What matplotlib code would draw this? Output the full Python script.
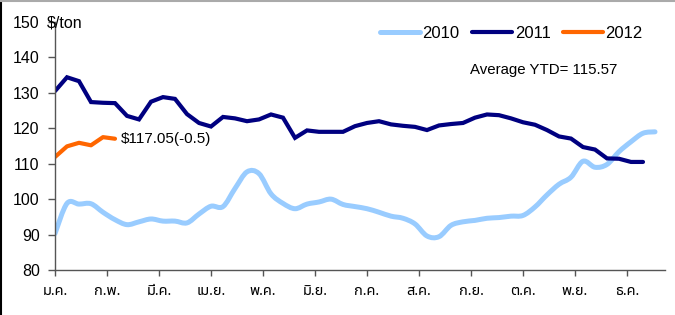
import matplotlib
matplotlib.use("Agg")
import numpy as np
import matplotlib.pyplot as plt
from matplotlib.lines import Line2D
from matplotlib.path import Path
from matplotlib.patches import PathPatch

plt.rcParams['font.family'] = ['Liberation Sans', 'DejaVu Sans']

# Weekly prices ($/ton)
price_2010 = [90.3, 98.8, 98.6, 98.7, 96.3, 94.2, 92.8, 93.6, 94.4, 93.8,
              93.8, 93.3, 95.8, 98.0, 97.9, 103.0, 107.7, 107.2, 101.5, 98.8,
              97.3, 98.6, 99.2, 100.0, 98.5, 97.9, 97.3, 96.3, 95.2, 94.6,
              93.0, 89.6, 89.4, 92.6, 93.6, 94.0, 94.6, 94.8, 95.2, 95.4,
              97.8, 101.2, 104.2, 106.2, 110.7, 109.0, 109.8, 113.4, 116.2, 118.6,
              119.0]
price_2011 = [130.5, 134.4, 133.3, 127.4, 127.2, 127.1, 123.5, 122.5, 127.5, 128.8,
              128.3, 124.0, 121.5, 120.5, 123.2, 122.8, 122.0, 122.5, 123.9, 123.0,
              117.3, 119.4, 119.0, 119.0, 119.0, 120.6, 121.5, 122.0, 121.1, 120.7,
              120.4, 119.5, 120.8, 121.2, 121.5, 123.0, 123.9, 123.7, 122.8, 121.7,
              121.0, 119.5, 117.7, 117.1, 114.7, 114.0, 111.5, 111.4, 110.5, 110.5]
price_2012 = [111.9, 114.9, 115.9, 115.2, 117.5, 117.05]

months = ['ม.ค.', 'ก.พ.', 'มี.ค.', 'เม.ย.', 'พ.ค.', 'มิ.ย.',
          'ก.ค.', 'ส.ค.', 'ก.ย.', 'ต.ค.', 'พ.ย.', 'ธ.ค.']
series_names = ['2010', '2011', '2012']
colors = ['#99CCFF', '#000080', '#FF6600']
last_label = '$117.05(-0.5)'
avg_label = 'Average YTD= 115.57'

thai_fonts = ['Noto Sans Thai', 'Kanit', 'Prompt', 'Sarabun', 'DejaVu Sans']


def smooth_path(y):
    # Excel-like smoothed line: Catmull-Rom segments as cubic Beziers
    x = np.arange(len(y), dtype=float)
    y = np.asarray(y, dtype=float)
    pts = np.column_stack([x, y])
    verts = [pts[0]]
    codes = [Path.MOVETO]
    n = len(pts)
    for i in range(n - 1):
        p0 = pts[max(i - 1, 0)]
        p1 = pts[i]
        p2 = pts[i + 1]
        p3 = pts[min(i + 2, n - 1)]
        c1 = p1 + (p2 - p0) / 6
        c2 = p2 - (p3 - p1) / 6
        verts += [c1, c2, p2]
        codes += [Path.CURVE4] * 3
    return Path(verts, codes)


fig = plt.figure(figsize=(6.75, 3.15), dpi=100)
ax = fig.add_axes([55 / 675, 1 - 270 / 315, 610 / 675, 248 / 315])

ax.add_patch(PathPatch(smooth_path(price_2010), fill=False, edgecolor=colors[0],
                       lw=3.6, capstyle='round', joinstyle='round'))
ax.plot(np.arange(len(price_2011)), price_2011, color=colors[1], lw=3.0,
        solid_joinstyle='miter', solid_capstyle='round')
ax.plot(np.arange(len(price_2012)), price_2012, color=colors[2], lw=3.0,
        solid_joinstyle='round', solid_capstyle='round')

# label at the end of the 2012 series
ax.annotate(last_label, xy=(len(price_2012) - 1, price_2012[-1]),
            xytext=(4.5, 0), textcoords='offset points', va='center',
            fontsize=11)

ax.set_ylim(80, 150)
ax.set_yticks(np.arange(80, 151, 10))
week_per_month = 52 / 12
ax.set_xlim(0, 610 / 12)
ax.set_xticks(np.arange(12) * week_per_month)
ax.set_xticklabels(months, fontsize=10.5, family=thai_fonts)

for s in ['top', 'right']:
    ax.spines[s].set_visible(False)
for s in ['left', 'bottom']:
    ax.spines[s].set_color('#555555')
    ax.spines[s].set_linewidth(1.0)
ax.tick_params(axis='y', direction='out', length=5, width=1, color='#555555',
               labelsize=11.5, pad=6)
ax.tick_params(axis='x', direction='out', length=4, width=1, color='#555555',
               pad=6)

fig.text(47 / 675, 1 - 23 / 315, '$/ton', fontsize=11.5, va='center', ha='left')
fig.text(470 / 675, 1 - 70 / 315, avg_label, fontsize=10.8, va='center', ha='left')

handles = [Line2D([], [], color=c, lw=3.6 if i == 0 else 3.0,
                  solid_capstyle='round')
           for i, c in enumerate(colors)]
ax.legend(handles, series_names, loc='center left',
          bbox_to_anchor=(380 / 675, 1 - 33 / 315),
          bbox_transform=fig.transFigure, ncol=3, frameon=False, fontsize=12,
          handlelength=2.4, handletextpad=0.15, columnspacing=0.75,
          borderpad=0, borderaxespad=0)

# outer border of the original picture
fig.add_artist(Line2D([0.5 / 675, 0.5 / 675], [0, 1], color='black', lw=1.5,
                      transform=fig.transFigure))
fig.add_artist(Line2D([0, 1], [1 - 1 / 315, 1 - 1 / 315], color='#AAAAAA', lw=1.5,
                      transform=fig.transFigure))

fig.savefig('out.png', dpi=100)
